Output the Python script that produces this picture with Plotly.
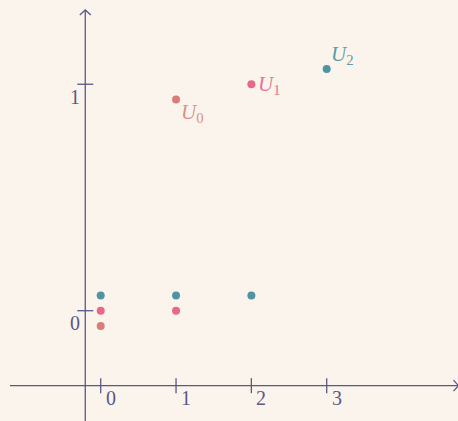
import plotly.graph_objects as go

# ---- data ----
x_tick_vals = [0, 1, 2, 3]
y_tick_vals = [0, 1]
series_labels = ["<i>U</i><sub>0</sub>", "<i>U</i><sub>1</sub>", "<i>U</i><sub>2</sub>"]
u0_values = [0, 1]
u1_values = [0, 0, 1]
u2_values = [0, 0, 0, 1]

# ---- styles ----
W, H = 458, 421
BG = "#faf4ec"
AX = "#5a5888"
colors = ["#d97d78", "#e8678c", "#4f94a0"]
label_colors = ["#de8e89", "#ec7096", "#5b9ca8"]
display_offset = [-0.067, 0.0, 0.067]
label_shift = [(16.5, -13.7), (17.8, -0.7), (16.0, 14.3)]
FONT = "Liberation Serif"

x_range = [-1.337, 4.743]
y_range = [-0.487, 1.372]
axis_x_at = -0.205   # where the vertical axis sits
axis_y_at = -0.331   # where the horizontal axis sits
px_x = W / (x_range[1] - x_range[0])
px_y = H / (y_range[1] - y_range[0])

fig = go.Figure()

all_series = [u0_values, u1_values, u2_values]
for i, vals in enumerate(all_series):
    xs = list(range(len(vals)))
    ys = [v + display_offset[i] for v in vals]
    fig.add_trace(go.Scatter(x=xs, y=ys, mode="markers",
                             marker=dict(size=8, color=colors[i]),
                             hoverinfo="skip"))
    fig.add_annotation(x=xs[-1], y=ys[-1], xref="x", yref="y",
                       text=series_labels[i], showarrow=False,
                       xshift=label_shift[i][0], yshift=label_shift[i][1],
                       font=dict(family=FONT, size=21, color=label_colors[i]))

shapes = []
line = dict(color=AX, width=1.3)
# horizontal axis
shapes.append(dict(type="line", xref="x", yref="y",
                   x0=x_range[0] + 10 / px_x, x1=x_range[1] + 1 / px_x,
                   y0=axis_y_at, y1=axis_y_at, line=line))
# arrowhead right
shapes.append(dict(type="path", xref="x", yref="y", xsizemode="pixel", ysizemode="pixel",
                   xanchor=x_range[1] + 0.5 / px_x, yanchor=axis_y_at,
                   path="M -5 -5.5 L 0 0 L -5 5.5", line=line))
# vertical axis
shapes.append(dict(type="line", xref="x", yref="y",
                   x0=axis_x_at, x1=axis_x_at,
                   y0=y_range[0], y1=y_range[1] - 10 / px_y, line=line))
shapes.append(dict(type="path", xref="x", yref="y", xsizemode="pixel", ysizemode="pixel",
                   xanchor=axis_x_at, yanchor=y_range[1] - 10 / px_y,
                   path="M -5.5 -5 L 0 0 L 5.5 -5", line=line))

for xv in x_tick_vals:
    shapes.append(dict(type="line", xref="x", yref="y", ysizemode="pixel",
                       yanchor=axis_y_at, x0=xv, x1=xv, y0=-7.5, y1=7.5, line=line))
    fig.add_annotation(x=xv, y=axis_y_at, xref="x", yref="y", text=str(xv),
                       showarrow=False, xshift=10, yshift=-12.5,
                       font=dict(family=FONT, size=20, color=AX))
for yv in y_tick_vals:
    shapes.append(dict(type="line", xref="x", yref="y", xsizemode="pixel",
                       xanchor=axis_x_at, y0=yv, y1=yv, x0=-8, x1=8, line=line))
    fig.add_annotation(x=axis_x_at, y=yv, xref="x", yref="y", text=str(yv),
                       showarrow=False, xshift=-10, yshift=-12.5,
                       font=dict(family=FONT, size=20, color=AX))

fig.update_layout(
    width=W, height=H, margin=dict(l=0, r=0, t=0, b=0),
    paper_bgcolor=BG, plot_bgcolor=BG, showlegend=False,
    xaxis=dict(range=x_range, visible=False, fixedrange=True),
    yaxis=dict(range=y_range, visible=False, fixedrange=True),
    shapes=shapes,
)
fig.write_html("out.html", config={"displayModeBar": False},
               post_script="document.body.style.margin='0';document.body.style.background='%s';" % BG)
